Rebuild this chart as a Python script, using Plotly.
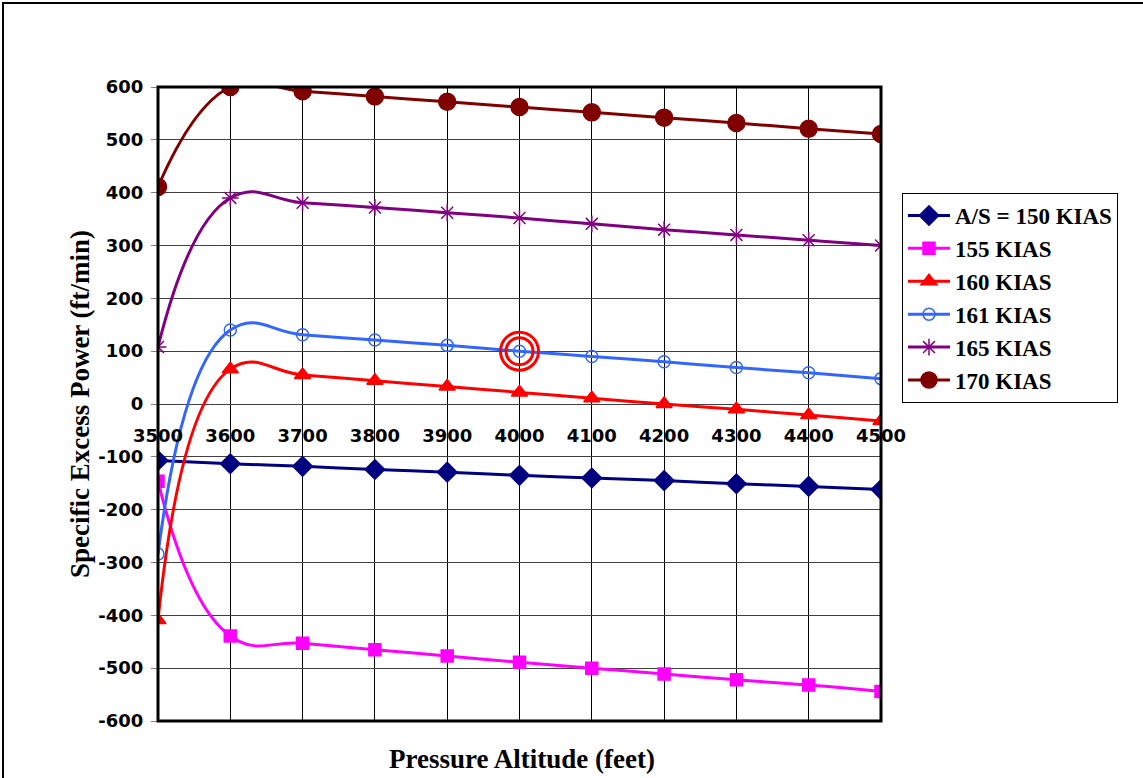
import plotly.graph_objects as go

altitude = [3500, 3600, 3700, 3800, 3900, 4000, 4100, 4200, 4300, 4400, 4500]
x_tick_labels = [str(a) for a in altitude]
y_ticks = [-600, -500, -400, -300, -200, -100, 0, 100, 200, 300, 400, 500, 600]
y_tick_labels = ["-600", "-500", "-400", "-300", "-200", "-100", "0", "100", "200", "300", "400", "500", "600"]

kias_150 = [-107, -113, -118, -124, -129, -135, -140, -145, -151, -156, -162]
kias_155 = [-146, -439, -453, -465, -477, -489, -500, -511, -522, -532, -544]
kias_160 = [-409, 66, 55, 44, 33, 22, 11, 0, -10, -21, -32]
kias_161 = [-284, 140, 131, 121, 111, 100, 90, 80, 69, 59, 48]
kias_165 = [108, 390, 381, 372, 362, 352, 341, 330, 320, 310, 300]
kias_170 = [411, 600, 592, 582, 572, 562, 552, 542, 532, 521, 511]

names = ["A/S = 150 KIAS", "155 KIAS", "160 KIAS", "161 KIAS", "165 KIAS", "170 KIAS"]
series = [kias_150, kias_155, kias_160, kias_161, kias_165, kias_170]
colors = ["#000080", "#FF00FF", "#FF0000", "#3366FF", "#800080", "#800000"]
symbols = ["diamond", "square", "triangle-up", "circle-open", "asterisk-open", "circle"]
msizes = [15, 12, 14, 12, 14, 17]

highlight_x = [4000]
highlight_y = [kias_161[altitude.index(4000)]]

fig = go.Figure()
for nm, ys, c, sym, ms in zip(names, series, colors, symbols, msizes):
    fig.add_trace(go.Scatter(
        x=altitude, y=ys, name=nm, mode="lines+markers",
        line=dict(color=c, width=3, shape="spline", smoothing=1.3),
        marker=dict(symbol=sym, size=ms, color=c, line=dict(color=c, width=1.5)),
        legendgroup=nm,
    ))

# double red ring highlight
for sz in (38, 27):
    fig.add_trace(go.Scatter(
        x=highlight_x, y=highlight_y, mode="markers", showlegend=False, hoverinfo="skip",
        marker=dict(symbol="circle-open", size=sz, color="#FF0000", line=dict(color="#FF0000", width=3)),
    ))

L, R, T, B = 158, 262, 87, 57
W, H = 1143, 778
pw, ph = W - L - R, H - T - B

def px(x):
    return (x - L) / pw

def py(y):
    return (H - B - y) / ph

tickfont = dict(family="DejaVu Sans", size=18, color="black", weight="bold")
titlefont = dict(family="Liberation Serif", size=27, color="black", weight="bold")

fig.update_layout(
    width=W, height=H,
    margin=dict(l=L, r=R, t=T, b=B),
    paper_bgcolor="white", plot_bgcolor="white",
    showlegend=True,
    legend=dict(
        x=px(902), y=py(193), xanchor="left", yanchor="top",
        bordercolor="black", borderwidth=1, bgcolor="white",
        font=dict(family="Liberation Serif", size=23, color="black", weight="bold"),
        tracegroupgap=0, itemwidth=42,
    ),
    xaxis=dict(
        range=[3500, 4500], tickmode="array", tickvals=altitude, ticktext=x_tick_labels,
        anchor="free", position=0.5, showline=False, zeroline=False,
        showgrid=True, gridcolor="black", gridwidth=1,
        ticks="", ticklabelstandoff=19,
        tickfont=tickfont,
    ),
    yaxis=dict(
        range=[-600, 600], tickmode="array", tickvals=y_ticks, ticktext=y_tick_labels,
        showline=False, zeroline=False,
        showgrid=True, gridcolor="#404040", gridwidth=1,
        ticks="outside", ticklen=6, tickcolor="#808080", ticklabelstandoff=4,
        tickfont=tickfont,
        title=dict(text="Specific Excess Power (ft/min)", standoff=0, font=titlefont),
    ),
    annotations=[dict(
        text="Pressure Altitude (feet)", xref="paper", yref="paper",
        x=px(522), y=py(759), xanchor="center", yanchor="middle", showarrow=False,
        font=titlefont,
    )],
    shapes=[
        dict(type="rect", xref="paper", yref="paper", x0=0, x1=1, y0=0, y1=1,
             line=dict(color="black", width=3), layer="above"),
        dict(type="rect", xref="paper", yref="paper", x0=px(3), x1=px(1200), y0=py(830), y1=py(3),
             line=dict(color="black", width=2), layer="below"),
    ],
)

fig.write_html("out.html")
